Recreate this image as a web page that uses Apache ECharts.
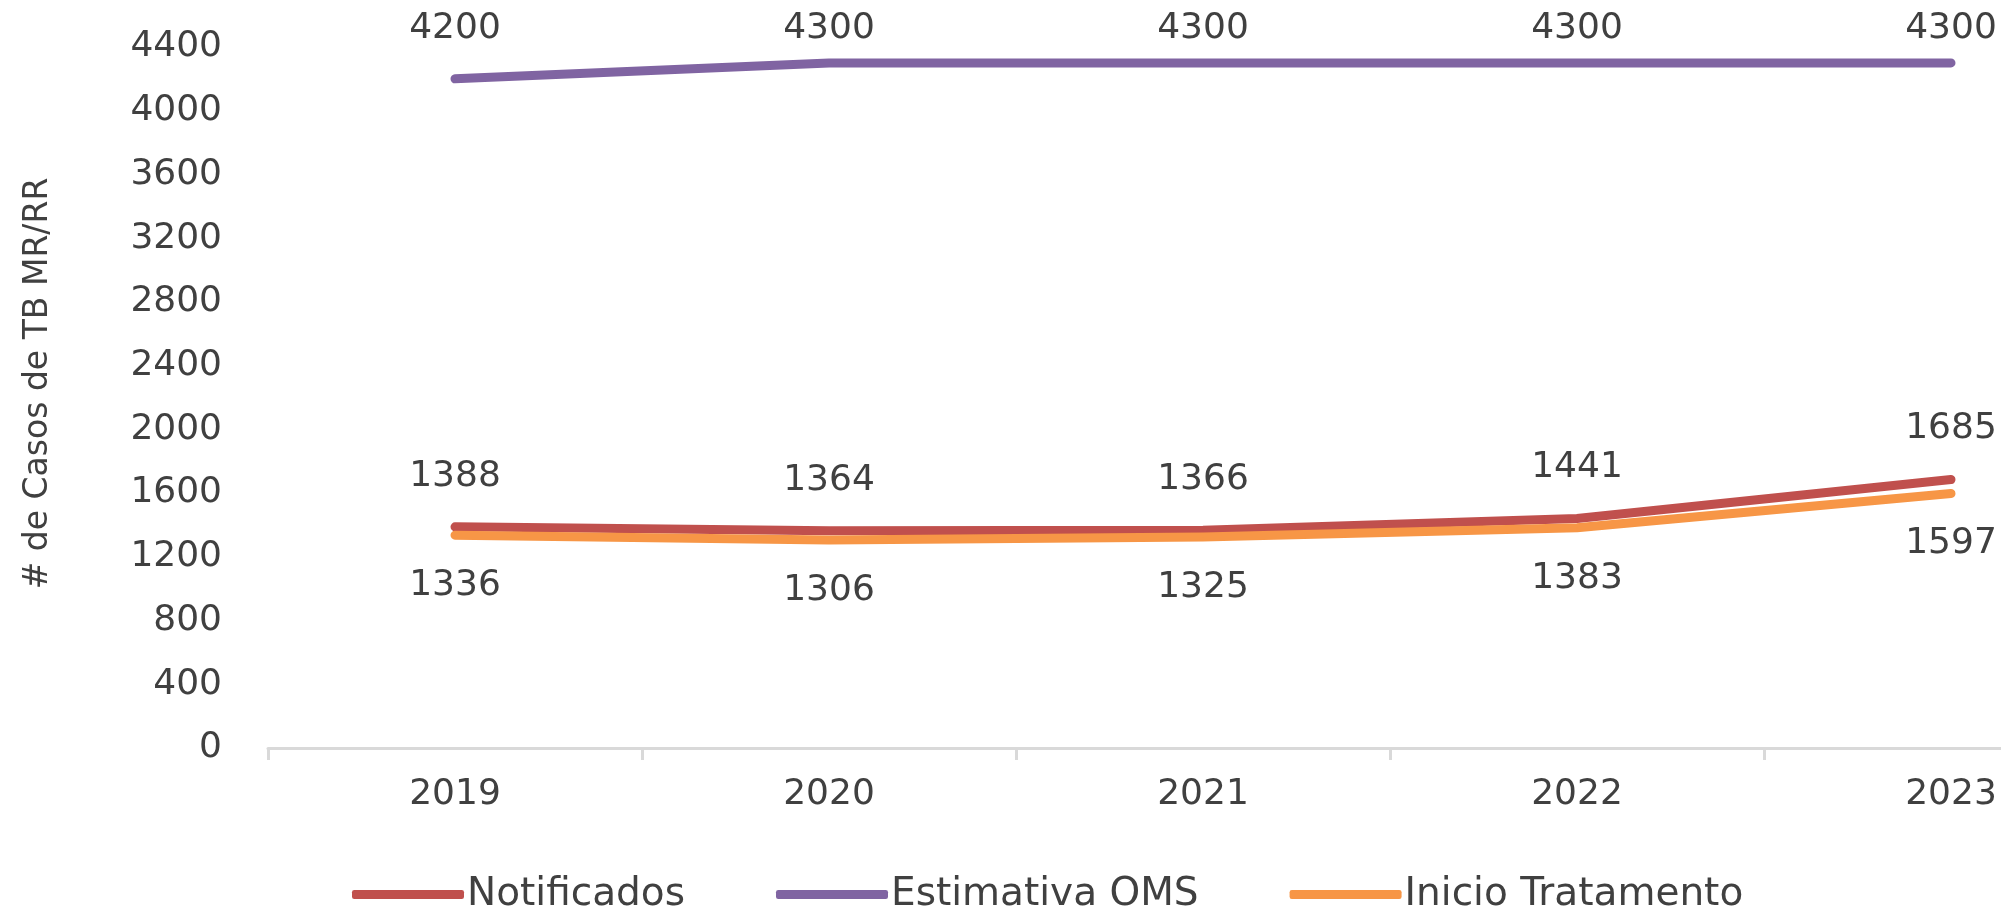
<!DOCTYPE html>
<html>
<head>
<meta charset="utf-8">
<title>Casos de TB MR/RR</title>
<script src="https://cdn.jsdelivr.net/npm/echarts@6/dist/echarts.min.js"></script>
<style>
  html, body { margin: 0; padding: 0; background: #fff; overflow: hidden; }
  /* the plot runs past the right edge of the window, like the cropped original */
  #chart { width: 2138px; height: 907px; }
</style>
</head>
<body>
<div id="chart"></div>
<script>
// data
var years = ['2019', '2020', '2021', '2022', '2023']
var notificados = [1388, 1364, 1366, 1441, 1685]
var estimativaOMS = [4200, 4300, 4300, 4300, 4300]
var inicioTratamento = [1336, 1306, 1325, 1383, 1597]

var textColor = '#404040'
var fontFamily = 'DejaVu Sans'

function lineSeries(name, data, color, labelPos) {
  return {
    name: name,
    type: 'line',
    data: data,
    symbol: 'circle',
    symbolSize: 1,
    itemStyle: { color: color },
    lineStyle: { color: color, width: 9, cap: 'round', join: 'round' },
    label: {
      show: true,
      position: labelPos,
      distance: 32,
      color: textColor,
      fontFamily: fontFamily,
      fontSize: 36
    },
    animation: false
  }
}

// labels near the top edge sit closer to the line (kept inside the chart)
var estimativaData = estimativaOMS.map(function(v) {
  return v >= 4300 ? { value: v, label: { distance: 16 } } : v
})

var chart = echarts.init(document.getElementById('chart'))
chart.setOption({
  backgroundColor: '#fff',
  textStyle: { fontFamily: fontFamily },
  grid: {
    left: 268,
    right: 0,
    top: 47,
    bottom: 159
  },
  legend: {
    left: 347,
    top: 870,
    itemWidth: 112,
    itemHeight: 9,
    itemGap: 91,
    icon: 'roundRect',
    textStyle: { color: textColor, fontSize: 39, fontFamily: fontFamily, padding: [0, 0, 0, -2] },
    data: ['Notificados', 'Estimativa OMS', 'Inicio Tratamento']
  },
  xAxis: {
    type: 'category',
    data: years,
    boundaryGap: true,
    axisLine: { lineStyle: { color: '#D9D9D9', width: 3 } },
    axisTick: { show: true, length: 12, interval: 0, lineStyle: { color: '#D9D9D9', width: 3 } },
    axisLabel: { color: textColor, fontSize: 36, margin: 29, interval: 0 }
  },
  yAxis: {
    type: 'value',
    min: 0,
    max: 4400,
    interval: 400,
    name: '# de Casos de TB MR/RR',
    nameLocation: 'middle',
    nameGap: 213,
    nameTextStyle: { color: textColor, fontSize: 33, fontFamily: fontFamily, padding: [0, 0, 0, 28] },
    axisLine: { show: false },
    axisTick: { show: false },
    splitLine: { show: false },
    axisLabel: {
      color: textColor,
      fontSize: 36,
      margin: 46,
      formatter: function(v) { return String(v) }
    }
  },
  series: [
    lineSeries('Notificados', notificados, '#C0504D', 'top'),
    lineSeries('Estimativa OMS', estimativaData, '#8064A2', 'top'),
    lineSeries('Inicio Tratamento', inicioTratamento, '#F79646', 'bottom')
  ]
})
</script>
</body>
</html>
